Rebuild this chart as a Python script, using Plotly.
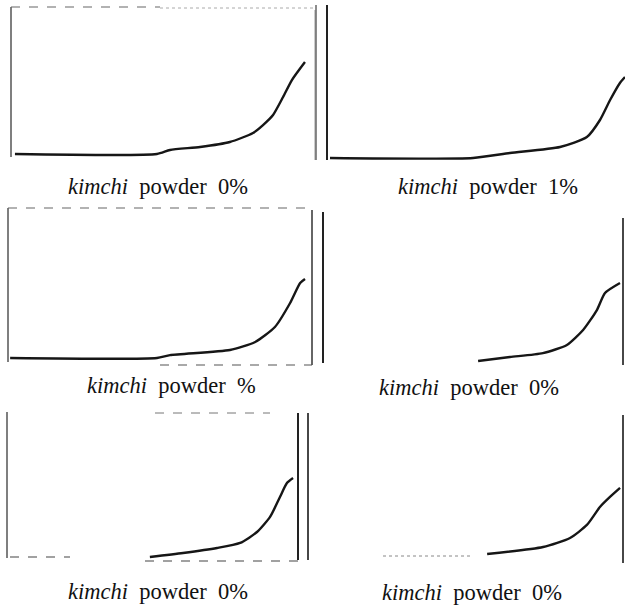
import plotly.graph_objects as go

W, H = 625, 606

# ---- data (normalised: x = % of panel width, y = % of panel height) ----
captions = ["<i>kimchi</i>  powder  0%", "<i>kimchi</i>  powder  1%",
            "<i>kimchi</i>  powder  %", "<i>kimchi</i>  powder  0%",
            "<i>kimchi</i>  powder  0%", "<i>kimchi</i>  powder  0%"]

x1 = [1.3, 48.0, 52.3, 62.2, 72.0, 79.6, 82.9, 86.2, 89.5, 92.4, 96.7]
y1 = [2.0, 2.0, 4.7, 6.7, 10.0, 16.0, 21.3, 28.0, 40.0, 51.3, 63.3]

x2 = [1.0, 49.0, 61.4, 78.2, 87.2, 91.6, 95.0, 98.3, 100.0]
y2 = [1.3, 1.3, 4.5, 8.4, 14.8, 25.8, 38.7, 49.7, 53.5]

x3 = [0.7, 49.0, 53.3, 73.0, 81.3, 87.8, 92.8, 96.1, 97.7]
y3 = [2.6, 2.6, 4.5, 7.8, 13.0, 22.7, 38.3, 51.3, 53.9]

x4 = [51.7, 62.3, 73.3, 81.3, 86.7, 91.3, 94.0, 99.0]
y4 = [2.6, 5.2, 7.8, 13.1, 22.9, 35.9, 47.1, 53.6]

x5 = [49.1, 60.5, 72.2, 80.1, 85.9, 90.4, 93.8, 96.2, 98.3]
y5 = [2.0, 4.7, 8.1, 11.5, 18.9, 29.1, 42.6, 52.0, 55.4]

x6 = [54.1, 73.0, 82.1, 87.8, 92.2, 95.6, 99.0]
y6 = [6.1, 10.8, 16.9, 25.7, 37.8, 44.6, 50.7]

series = [(x1, y1), (x2, y2), (x3, y3), (x4, y4), (x5, y5), (x6, y6)]

# ---- layout (pixel boxes of each panel: left, right, top, bottom) ----
boxes = [(11, 315, 7, 157), (327, 625, 5, 160),
         (8, 312, 208, 362), (323, 623, 212, 365),
         (7, 298, 412, 560), (327, 623, 415, 563)]
cap_pos = [(158, 186), (488, 186), (171, 385), (469, 387), (158, 591), (472, 592)]


def px(x):
    return x / W


def py(y):
    return 1 - y / H


fig = go.Figure()
for i, ((xs, ys), (l, r, t, b)) in enumerate(zip(series, boxes)):
    k = "" if i == 0 else str(i + 1)
    fig.add_trace(go.Scatter(x=xs, y=ys, mode="lines",
                             line=dict(color="#161616", width=2.4, shape="spline", smoothing=0.6),
                             xaxis="x" + k, yaxis="y" + k, showlegend=False,
                             hoverinfo="skip"))
    fig.layout["xaxis" + k] = dict(domain=[px(l), px(r)], range=[0, 100],
                                   visible=False, anchor="y" + k, fixedrange=True)
    fig.layout["yaxis" + k] = dict(domain=[py(b), py(t)], range=[0, 100],
                                   visible=False, anchor="x" + k, fixedrange=True)

for text, (cx, cy) in zip(captions, cap_pos):
    fig.add_annotation(x=px(cx), y=py(cy), xref="paper", yref="paper",
                       text=text, showarrow=False, xanchor="center", yanchor="middle",
                       font=dict(family="Liberation Serif", size=22.5, color="#111"))

# scanned frame lines
lines = [
    # panel 1
    (11, 7, 11, 157, "#555", 1.5, "solid"), (11, 7, 160, 7, "#666", 1.2, "dash"),
    (160, 8, 315, 8, "#aaa", 1, "dot"), (315, 10, 315, 160, "#999", 1, "solid"),
    # panel 2
    (316, 5, 316, 160, "#666", 1.5, "solid"), (327, 5, 327, 160, "#222", 2, "solid"),
    # panel 3
    (8, 208, 8, 362, "#555", 1.5, "solid"), (8, 208, 310, 208, "#666", 1.2, "dash"),
    (312, 210, 312, 365, "#333", 1.5, "solid"), (160, 365, 312, 365, "#555", 1.2, "dash"),
    # panel 4
    (323, 212, 323, 363, "#222", 2, "solid"), (623, 218, 623, 365, "#333", 1.8, "solid"),
    # panel 5
    (7, 412, 7, 558, "#555", 1.5, "solid"), (298, 413, 298, 560, "#222", 2, "solid"),
    (308, 413, 308, 560, "#333", 1.8, "solid"), (10, 557, 70, 557, "#444", 1.2, "dash"),
    (145, 561, 298, 561, "#444", 1.2, "dash"), (155, 413, 270, 413, "#777", 1, "dash"),
    # panel 6
    (623, 415, 623, 563, "#333", 1.8, "solid"), (383, 556, 473, 556, "#888", 1, "dot"),
]
for x0, y0, x1_, y1_, c, w, d in lines:
    fig.add_shape(type="line", xref="paper", yref="paper",
                  x0=px(x0), y0=py(y0), x1=px(x1_), y1=py(y1_),
                  line=dict(color=c, width=w, dash=d))

fig.update_layout(width=W, height=H, margin=dict(l=0, r=0, t=0, b=0),
                  paper_bgcolor="white", plot_bgcolor="white")
fig.write_html("out.html", config={"displayModeBar": False, "staticPlot": True},
               post_script="document.body.style.margin='0';document.body.style.overflow='hidden';")
